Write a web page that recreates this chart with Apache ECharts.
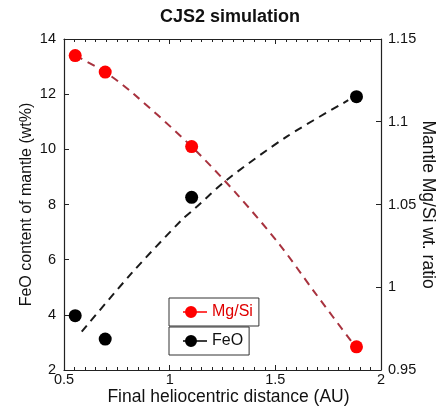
<!DOCTYPE html>
<html lang="en">
<head>
    <meta charset="UTF-8">
    <script src="https://cdn.jsdelivr.net/npm/echarts@6/dist/echarts.min.js"></script>
    <title>CJS2 simulation</title>
    <style>
        html, body { margin: 0; padding: 0; background: #fff; }
        #main { width: 445px; height: 415px; }
    </style>
</head>
<body>
<div id="main"></div>
<script>
    // measured points
    var distance = [0.553, 0.695, 1.104, 1.884];
    var mgsi = [1.140, 1.130, 1.085, 0.964];
    var feo = [3.97, 3.12, 8.26, 11.91];

    // dashed fit curves
    var mgsiFitX = [0.553, 0.695, 0.828, 1.104, 1.32, 1.522, 1.68, 1.862, 1.884];
    var mgsiFitY = [1.140, 1.130, 1.117, 1.085, 1.056, 1.0255, 0.998, 0.967, 0.964];
    var feoFitX = [0.584, 0.82, 1.057, 1.12, 1.27, 1.554, 1.845];
    var feoFitY = [3.39, 5.51, 7.44, 7.86, 8.89, 10.46, 11.78];

    var xTicks = [0.5, 1, 1.5, 2];
    var feoTicks = [2, 4, 6, 8, 10, 12, 14];
    var mgsiTicks = [0.95, 1, 1.05, 1.1, 1.15];

    function pairs(xs, ys) {
        var out = [];
        for (var i = 0; i < xs.length; i++) out.push([xs[i], ys[i]]);
        return out;
    }

    var font = 'Liberation Sans, Arial, sans-serif';
    // line with a dot, as in the legend boxes
    var legendIcon = 'path://M0,5.2H24V6.8H0Z M14,6A6,6 0 1 1 2,6A6,6 0 1 1 14,6Z';

    var myChart = echarts.init(document.getElementById('main'));

    var tickStyle = { inside: true, length: 5, lineStyle: { color: '#222' } };
    var minorStyle = { show: true, splitNumber: 10, length: 3, lineStyle: { color: '#222' } };

    var option = {
        animation: false,
        textStyle: { fontFamily: font },
        title: {
            text: 'CJS2 simulation',
            left: 160,
            top: 8,
            padding: 0,
            textStyle: { fontFamily: font, fontSize: 18, fontWeight: 'bold', color: '#111' }
        },
        grid: { left: 64, right: 64, top: 39, bottom: 45, outerBoundsMode: 'none', containLabel: false },
        legend: [
            {
                data: [{ name: 'Mg/Si', icon: legendIcon }],
                left: 169, top: 298,
                orient: 'vertical',
                itemWidth: 24, itemHeight: 12,
                padding: [6, 6, 6, 14],
                borderColor: '#333', borderWidth: 1,
                textStyle: { fontFamily: font, fontSize: 16, color: '#e00000' }
            },
            {
                data: [{ name: 'FeO', icon: legendIcon }],
                left: 169, top: 327,
                orient: 'vertical',
                itemWidth: 24, itemHeight: 12,
                padding: [6, 6, 6, 14],
                borderColor: '#333', borderWidth: 1,
                textStyle: { fontFamily: font, fontSize: 16, color: '#111' }
            }
        ],
        xAxis: [
            {
                type: 'value', position: 'bottom',
                min: xTicks[0], max: xTicks[xTicks.length - 1], interval: 0.5,
                name: 'Final heliocentric distance (AU)',
                nameLocation: 'middle', nameGap: 18, nameMoveOverlap: false,
                nameTextStyle: { fontFamily: font, fontSize: 17.5, color: '#111', padding: [0, 0, 0, 12] },
                axisLine: { lineStyle: { color: '#222', width: 1.2 } },
                axisTick: tickStyle,
                minorTick: minorStyle,
                axisLabel: { fontFamily: font, fontSize: 14.5, color: '#111', margin: 2 },
                splitLine: { show: false }
            },
            {
                type: 'value', position: 'top',
                min: xTicks[0], max: xTicks[xTicks.length - 1], interval: 0.5,
                axisLine: { lineStyle: { color: '#222', width: 1.2 } },
                axisTick: tickStyle,
                minorTick: minorStyle,
                axisLabel: { show: false },
                splitLine: { show: false }
            }
        ],
        yAxis: [
            {
                type: 'value', position: 'left',
                min: feoTicks[0], max: feoTicks[feoTicks.length - 1], interval: 2,
                name: 'FeO content of mantle (wt%)',
                nameLocation: 'middle', nameGap: 29, nameMoveOverlap: false,
                nameTextStyle: { fontFamily: font, fontSize: 16, color: '#111' },
                axisLine: { show: true, lineStyle: { color: '#222', width: 1.2 } },
                axisTick: tickStyle,
                axisLabel: { fontFamily: font, fontSize: 14.5, color: '#111', margin: 8 },
                splitLine: { show: false }
            },
            {
                type: 'value', position: 'right',
                min: mgsiTicks[0], max: mgsiTicks[mgsiTicks.length - 1], interval: 0.05,
                name: 'Mantle Mg/Si wt. ratio',
                nameLocation: 'middle', nameGap: 38, nameRotate: -90, nameMoveOverlap: false,
                nameTextStyle: { fontFamily: font, fontSize: 17.5, color: '#111' },
                axisLine: { show: true, lineStyle: { color: '#222', width: 1.2 } },
                axisTick: tickStyle,
                axisLabel: { fontFamily: font, fontSize: 14.5, color: '#111', margin: 7 },
                splitLine: { show: false }
            }
        ],
        series: [
            {
                name: 'Mg/Si fit', type: 'line', xAxisIndex: 0, yAxisIndex: 1,
                data: pairs(mgsiFitX, mgsiFitY),
                smooth: 0.3, symbol: 'none', silent: true,
                lineStyle: { color: '#a8323e', width: 2, type: [8, 6] },
                z: 2
            },
            {
                name: 'FeO fit', type: 'line', xAxisIndex: 0, yAxisIndex: 0,
                data: pairs(feoFitX, feoFitY),
                smooth: 0.3, symbol: 'none', silent: true,
                lineStyle: { color: '#1a1a1a', width: 2, type: [8, 6] },
                z: 2
            },
            {
                name: 'Mg/Si', type: 'scatter', xAxisIndex: 0, yAxisIndex: 1,
                data: pairs(distance, mgsi),
                symbolSize: 13,
                itemStyle: { color: '#ff0000', opacity: 1 },
                z: 3
            },
            {
                name: 'FeO', type: 'scatter', xAxisIndex: 0, yAxisIndex: 0,
                data: pairs(distance, feo),
                symbolSize: 13,
                itemStyle: { color: '#000000', opacity: 1 },
                z: 3
            }
        ]
    };

    myChart.setOption(option);
</script>
</body>
</html>
